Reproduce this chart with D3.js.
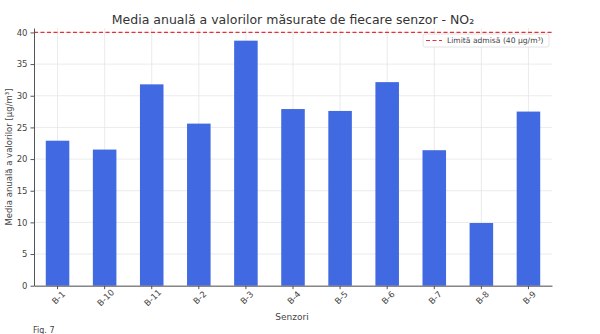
<!DOCTYPE html>
<html>
<head>
<meta charset="utf-8">
<script src="https://cdn.jsdelivr.net/npm/d3@7"></script>
<style>
  body { margin: 0; background: #fff; }
  text { font-family: "DejaVu Sans", sans-serif; }
</style>
</head>
<body>
<svg id="chart" width="600" height="334"></svg>
<script>
// sensor averages, NO2 (µg/m³)
const sensors = ['B-1', 'B-10', 'B-11', 'B-2', 'B-3', 'B-4', 'B-5', 'B-6', 'B-7', 'B-8', 'B-9']
const values = [22.9, 21.5, 31.8, 25.6, 38.7, 27.9, 27.6, 32.15, 21.4, 9.9, 27.5]
const yTicks = [0, 5, 10, 15, 20, 25, 30, 35, 40]
const limit = 40

const svg = d3.select('#chart')
const plotLeft = 34, plotRight = 552, plotTop = 28, plotBottom = 285.7

const x = d3.scaleBand()
  .domain(sensors)
  .range([plotLeft, plotRight])
  .paddingInner(0.5)
  .paddingOuter(0.25)

const y = d3.scaleLinear()
  .domain([0, 40.7])
  .range([plotBottom, plotTop])

// grid
const grid = svg.append('g')
grid.selectAll('line.h')
  .data(yTicks)
  .join('line')
  .attr('x1', plotLeft).attr('x2', plotRight)
  .attr('y1', d => y(d)).attr('y2', d => y(d))
  .attr('stroke', '#e6e6e6').attr('stroke-width', 0.8)
grid.selectAll('line.v')
  .data(sensors)
  .join('line')
  .attr('x1', d => x(d) + x.bandwidth() / 2).attr('x2', d => x(d) + x.bandwidth() / 2)
  .attr('y1', plotTop).attr('y2', plotBottom)
  .attr('stroke', '#e6e6e6').attr('stroke-width', 0.8)

// bars
svg.append('g')
  .selectAll('rect')
  .data(sensors)
  .join('rect')
  .attr('x', d => x(d))
  .attr('width', x.bandwidth())
  .attr('y', (d, i) => y(values[i]))
  .attr('height', (d, i) => y(0) - y(values[i]))
  .attr('fill', '#4169e1')

// limit line
svg.append('line')
  .attr('x1', plotLeft).attr('x2', plotRight)
  .attr('y1', y(limit)).attr('y2', y(limit))
  .attr('stroke', '#e8303a').attr('stroke-width', 1.2)
  .attr('stroke-dasharray', '4,2.5')

// axes
const xAxis = svg.append('g')
  .attr('transform', `translate(0,${plotBottom})`)
  .call(d3.axisBottom(x).tickSize(3.5).tickSizeOuter(0))
xAxis.select('.domain').attr('stroke', '#555')
xAxis.selectAll('.tick line').attr('stroke', '#555')
xAxis.selectAll('.tick text')
  .attr('font-size', 8.5)
  .attr('fill', '#444')
  .attr('text-anchor', 'middle')
  .attr('y', 0)
  .attr('dy', '0.35em')
  .attr('transform', 'translate(1,12) rotate(-45)')

const yAxis = svg.append('g')
  .attr('transform', `translate(${plotLeft},0)`)
  .call(d3.axisLeft(y).tickValues(yTicks).tickSize(3.5).tickSizeOuter(0))
yAxis.select('.domain').attr('stroke', '#555')
yAxis.selectAll('.tick line').attr('stroke', '#555')
yAxis.selectAll('.tick text')
  .attr('font-size', 8.5)
  .attr('fill', '#444')

// labels
svg.append('text')
  .attr('x', 293).attr('y', 24)
  .attr('text-anchor', 'middle')
  .attr('font-size', 12.5)
  .attr('fill', '#333')
  .text('Media anuală a valorilor măsurate de fiecare senzor - NO₂')

svg.append('text')
  .attr('transform', 'translate(12,157) rotate(-90)')
  .attr('text-anchor', 'middle')
  .attr('font-size', 8.5)
  .attr('fill', '#444')
  .text('Media anuală a valorilor [µg/m³]')

svg.append('text')
  .attr('x', 292).attr('y', 320)
  .attr('text-anchor', 'middle')
  .attr('font-size', 9)
  .attr('fill', '#444')
  .text('Senzori')

svg.append('text')
  .attr('x', 33).attr('y', 333)
  .attr('font-size', 8)
  .attr('fill', '#444')
  .text('Fig. 7')

// legend
const lg = svg.append('g').attr('transform', 'translate(423,34)')
lg.append('rect')
  .attr('width', 126).attr('height', 13)
  .attr('fill', '#fff').attr('fill-opacity', 0.85)
  .attr('stroke', '#ddd').attr('stroke-width', 0.8).attr('rx', 2)
lg.append('line')
  .attr('x1', 3).attr('x2', 19).attr('y1', 6.5).attr('y2', 6.5)
  .attr('stroke', '#e8303a').attr('stroke-width', 1.2)
  .attr('stroke-dasharray', '4,2.5')
lg.append('text')
  .attr('x', 24).attr('y', 9.4)
  .attr('font-size', 7.6)
  .attr('fill', '#444')
  .text('Limită admisă (40 µg/m³)')
</script>
</body>
</html>
